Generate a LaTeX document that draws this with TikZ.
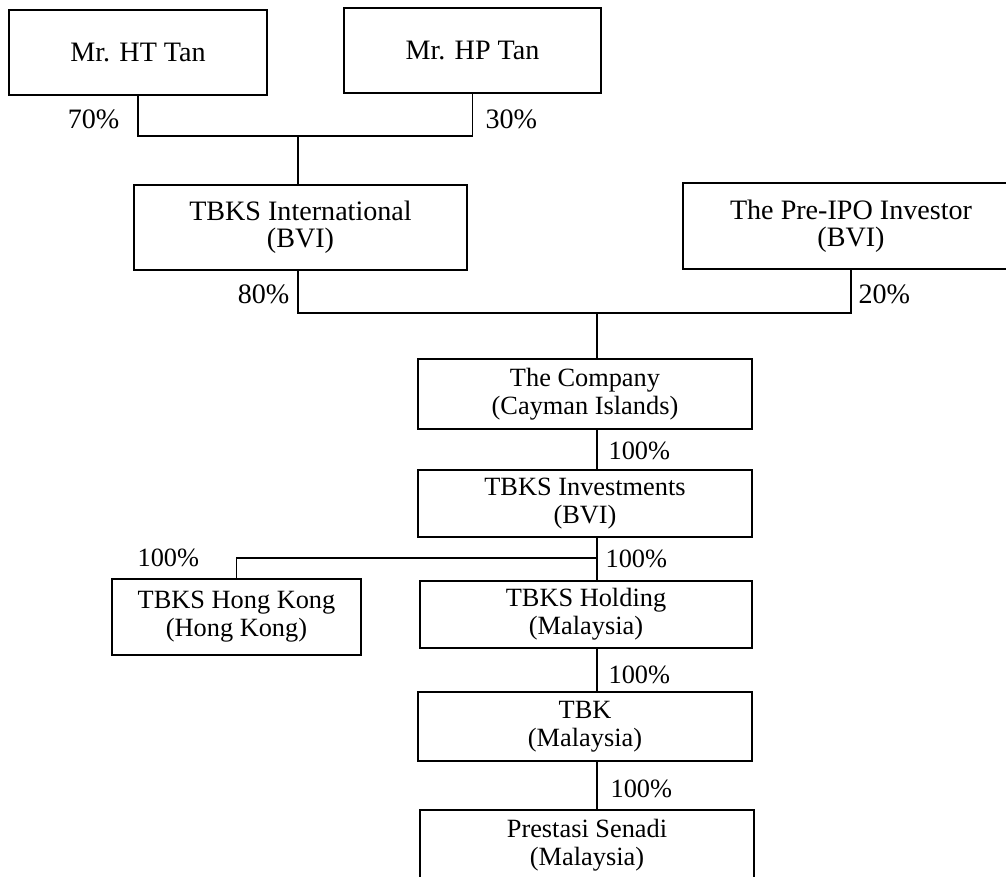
\documentclass[tikz,border=0pt]{standalone}
\usepackage{fontspec}
\setmainfont{Liberation Serif}
\usetikzlibrary{positioning}

\begin{document}
\begin{tikzpicture}[x=0.02cm,y=-0.02cm,line width=0.7pt,
	box/.style={draw,inner sep=0pt,align=center,font=\fontsize{15}{16}\selectfont},
	topbox/.style={box,font=\fontsize{16}{15.5}\selectfont},
	pct/.style={inner sep=0pt,font=\fontsize{15}{16}\selectfont}]
	\useasboundingbox (0,0) rectangle (1006,876);
	\clip (0,0) rectangle (1006,876);
	\node[topbox,minimum width=5.16cm,minimum height=1.7cm] (0) at (138, 52.5) {Mr. HT Tan};
	\node[topbox,minimum width=5.14cm,minimum height=1.7cm] (1) at (472.5, 50.5) {Mr. HP Tan};
	\node[topbox,minimum width=6.66cm,minimum height=1.7cm] (2) at (300.5, 227.5) {TBKS International\\(BVI)};
	\node[topbox,minimum width=6.72cm,minimum height=1.72cm] (3) at (851, 226) {The Pre-IPO Investor\\(BVI)};
	\node[box,minimum width=6.68cm,minimum height=1.4cm] (4) at (585, 394) {The Company\\(Cayman Islands)};
	\node[box,minimum width=6.68cm,minimum height=1.34cm] (5) at (585, 503.5) {TBKS Investments\\(BVI)};
	\node[box,minimum width=4.98cm,minimum height=1.52cm] (6) at (236.5, 617) {TBKS Hong Kong\\(Hong Kong)};
	\node[box,minimum width=6.64cm,minimum height=1.34cm] (7) at (586, 614.5) {TBKS Holding\\(Malaysia)};
	\node[box,minimum width=6.68cm,minimum height=1.38cm] (8) at (585, 726.5) {TBK\\(Malaysia)};
	\node[box,minimum width=6.68cm,minimum height=1.4cm] (9) at (587, 845) {Prestasi Senadi\\(Malaysia)};
	% ownership lines
	\coordinate (j1) at (298, 136);
	\coordinate (j2) at (597, 313);
	\coordinate (j3) at (597, 558);
	\draw (0.south) |- (j1) -| (1.south);
	\draw (j1) -- (j1 |- 2.north);
	\draw (2.south -| j1) |- (j2) -| (3.south);
	\draw (j2) -- (j2 |- 4.north);
	\draw (j2 |- 4.south) -- (j2 |- 5.north);
	\draw (j2 |- 5.south) -- (j3) -- (j3 |- 7.north);
	\draw (j3) -| (6.north);
	\draw (j3 |- 7.south) -- (j3 |- 8.north);
	\draw (j3 |- 8.south) -- (j3 |- 9.north);
	% percentages
	\node[pct,font=\fontsize{16}{16}\selectfont,anchor=base east] (p0) at (120, 128) {70\%};
	\node[pct,font=\fontsize{16}{16}\selectfont,anchor=base west] (p1) at (485, 128) {30\%};
	\node[pct,font=\fontsize{16}{16}\selectfont,anchor=base east] (p2) at (290, 303) {80\%};
	\node[pct,font=\fontsize{16}{16}\selectfont,anchor=base west] (p3) at (858, 303) {20\%};
	\node[pct,anchor=base west] (p4) at (608, 459) {100\%};
	\node[pct,anchor=base west] (p5) at (137, 566) {100\%};
	\node[pct,anchor=base west] (p6) at (605, 567) {100\%};
	\node[pct,anchor=base west] (p7) at (608, 683) {100\%};
	\node[pct,anchor=base west] (p8) at (610, 797) {100\%};
\end{tikzpicture}
\end{document}
